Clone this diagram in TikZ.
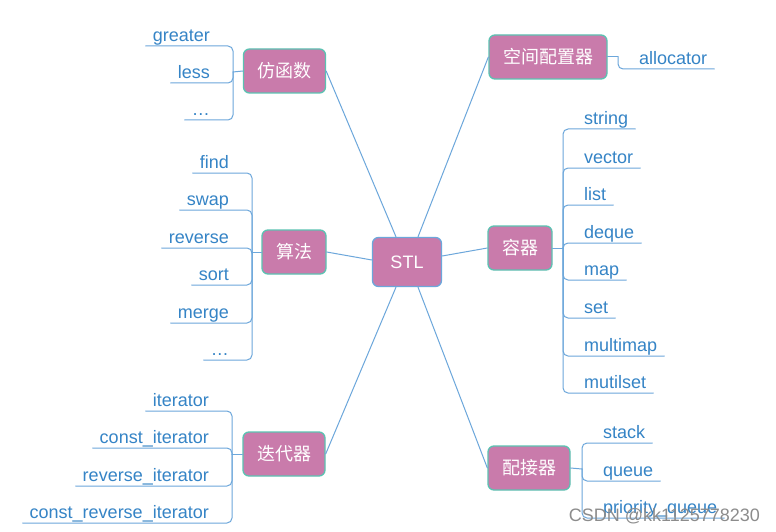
\documentclass[tikz,border=0pt]{standalone}
\usepackage{fontspec}
\setmainfont{Liberation Sans}
\newfontfamily\cjk{Noto Sans CJK SC}
\definecolor{BoxPink}{HTML}{C97BAB}
\definecolor{BoxTeal}{HTML}{5CC2B2}
\definecolor{LineBlue}{HTML}{6CA7DB}
\definecolor{TextBlue}{HTML}{3584C6}
\definecolor{MarkGray}{HTML}{8C8C8C}

\begin{document}
\begin{tikzpicture}[x=1pt,y=-1pt,line cap=round,
  topic/.style={draw=BoxTeal,fill=BoxPink,line width=1.3pt,rounded corners=6pt,minimum height=44pt,inner xsep=14pt,text=white,font=\cjk\fontsize{18}{20}\selectfont},
  leaf/.style={text=TextBlue,font=\fontsize{18}{20}\selectfont,inner xsep=7pt,inner ysep=4.5pt,text depth=0pt},
  link/.style={draw=LineBlue,line width=1pt},
  brace/.style={draw=LineBlue,line width=1pt,rounded corners=5pt}]
  \fill[white] (0,0) rectangle (776,532);
  \useasboundingbox (0,0) rectangle (776,532);
  % centre and branches
  \node[topic,draw=LineBlue,minimum width=69pt,minimum height=49pt,font=\fontsize{18}{20}\selectfont] (stl) at (407,262) {STL};
  \node[topic] (fun) at (284.5,71) {仿函数}; \node[topic] (algo) at (294,252) {算法};
  \node[topic] (iter) at (284,454) {迭代器}; \node[topic] (alloc) at (548,57) {空间配置器};
  \node[topic] (cont) at (520,248) {容器}; \node[topic] (adap) at (529,468) {配接器};
  \draw[link] (fun.east) -- ([xshift=-11pt]stl.north); \draw[link] (alloc.west) -- ([xshift=11pt]stl.north);
  \draw[link] (algo.east) -- ([yshift=2pt]stl.west); \draw[link] ([yshift=6pt]stl.east) -- (cont.west);
  \draw[link] ([xshift=-11pt]stl.south) -- (iter.east); \draw[link] ([xshift=11pt]stl.south) -- (adap.west);
  % left leaves
  \draw[link] (fun.west) -- (233,72);
  \foreach \n/\t/\y in {fg/greater/46,fl/less/83,fd/\ldots/120}{
    \node[leaf,anchor=south east] (\n) at (217,\y) {\t}; \draw[brace] (233,72) |- (\n.south west);}
  \draw[link] (algo.west) -- (252,252);
  \foreach \n/\t/\y in {af/find/173,as/swap/210,ar/reverse/248,ao/sort/285,am/merge/323,ad/\ldots/360}{
    \node[leaf,anchor=south east] (\n) at (236,\y) {\t}; \draw[brace] (252,252) |- (\n.south west);}
  \draw[link] (iter.west) -- (232,454);
  \foreach \n/\t/\y in {it/iterator/411,ci/const\_iterator/448,ri/reverse\_iterator/486,cr/const\_reverse\_iterator/523}{
    \node[leaf,anchor=south east] (\n) at (216,\y) {\t}; \draw[brace] (232,454) |- (\n.south west);}
  % right leaves
  \draw[link] (alloc.east) -- (618,57);
  \node[leaf,anchor=south west] (al) at (632,69) {allocator}; \draw[brace] (618,57) |- (al.south east);
  \draw[link] (cont.east) -- (563,248);
  \foreach \n/\t/\y in {cs/string/129,cv/vector/168,cl/list/205,cq/deque/243,cm/map/280,ce/set/318,cmm/multimap/356,cms/mutilset/393}{
    \node[leaf,anchor=south west] (\n) at (577,\y) {\t}; \draw[brace] (563,248) |- (\n.south east);}
  \draw[link] (adap.east) -- (582,469);
  \foreach \n/\t/\y in {ps/stack/443,pq/queue/481,pp/priority\_queue/518}{
    \node[leaf,anchor=south west] (\n) at (596,\y) {\t}; \draw[brace] (582,469) |- (\n.south east);}
  \node[text=MarkGray,font=\fontsize{18}{20}\selectfont] (mark) at (664.5,516) {CSDN @kk1125778230};
\end{tikzpicture}
\end{document}
